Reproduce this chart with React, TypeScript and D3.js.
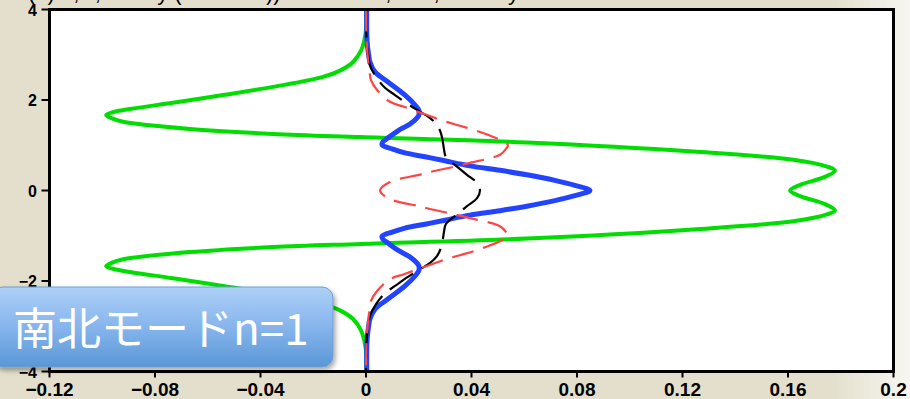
import React from 'react';
import * as d3 from 'd3';

// curve samples: [y, value]
const greenPts: [number, number][] = [
  [4, 0], [3.55, 0], [3.33, -0.0006], [3.1, -0.0018], [2.84, -0.0049], [2.66, -0.0095],
  [2.51, -0.0163], [2.29, -0.0353], [2.11, -0.0542], [1.94, -0.0732], [1.8, -0.0895],
  [1.73, -0.096], [1.67, -0.0985], [1.6, -0.0965], [1.52, -0.0921], [1.36, -0.0667],
  [1.25, -0.0353], [1.18, -0.002], [1.06, 0.061], [0.86, 0.124], [0.68, 0.162],
  [0.53, 0.1748], [0.44, 0.1778], [0.3, 0.174], [0.125, 0.1646], [0, 0.1608],
  [-0.125, 0.1646], [-0.3, 0.174], [-0.44, 0.1778], [-0.53, 0.1748], [-0.68, 0.162],
  [-0.86, 0.124], [-1.06, 0.061], [-1.18, -0.002], [-1.25, -0.0353], [-1.36, -0.0667],
  [-1.52, -0.0921], [-1.6, -0.0965], [-1.67, -0.0985], [-1.73, -0.096], [-1.8, -0.0895],
  [-1.94, -0.0732], [-2.11, -0.0542], [-2.29, -0.0353], [-2.51, -0.0163], [-2.66, -0.0095],
  [-2.84, -0.0049], [-3.1, -0.0018], [-3.33, -0.0006], [-3.55, 0], [-4, 0],
];

const bluePts: [number, number][] = [
  [4, 0.0003], [3.3, 0.0004], [3.0, 0.001], [2.84, 0.0015], [2.62, 0.0034], [2.4, 0.0083],
  [2.11, 0.0148], [1.89, 0.0186], [1.76, 0.0201], [1.65, 0.0199], [1.47, 0.0167],
  [1.32, 0.0121], [1.16, 0.0083], [1.075, 0.0064], [1.01, 0.0061], [0.92, 0.0099],
  [0.83, 0.0148], [0.745, 0.0224], [0.656, 0.0299], [0.545, 0.0394], [0.446, 0.0508],
  [0.347, 0.061], [0.225, 0.0716], [0.115, 0.0792], [0, 0.0849],
  [-0.115, 0.0792], [-0.225, 0.0716], [-0.347, 0.061], [-0.446, 0.0508], [-0.545, 0.0394],
  [-0.656, 0.0299], [-0.745, 0.0224], [-0.83, 0.0148], [-0.92, 0.0099], [-1.01, 0.0061],
  [-1.075, 0.0064], [-1.16, 0.0083], [-1.32, 0.0121], [-1.47, 0.0167], [-1.65, 0.0199],
  [-1.76, 0.0201], [-1.89, 0.0186], [-2.11, 0.0148], [-2.4, 0.0083], [-2.62, 0.0034],
  [-2.84, 0.0015], [-3.0, 0.001], [-3.3, 0.0004], [-4, 0.0003],
];

const blackPts: [number, number][] = [
  [4, 0], [3.33, 0.0002], [2.99, 0.0008], [2.77, 0.0015], [2.51, 0.0038], [2.27, 0.0072],
  [2.11, 0.011], [1.91, 0.0159], [1.74, 0.0205], [1.6, 0.0243], [1.45, 0.0269],
  [1.27, 0.0284], [1.05, 0.0292], [0.9, 0.0296], [0.74, 0.0303], [0.567, 0.0337],
  [0.347, 0.0383], [0.17, 0.0421], [0, 0.0432],
  [-0.17, 0.0421], [-0.347, 0.0383], [-0.567, 0.0337], [-0.74, 0.0303], [-0.9, 0.0296],
  [-1.05, 0.0292], [-1.27, 0.0284], [-1.45, 0.0269], [-1.6, 0.0243], [-1.74, 0.0205],
  [-1.91, 0.0159], [-2.11, 0.011], [-2.27, 0.0072], [-2.51, 0.0038], [-2.77, 0.0015],
  [-2.99, 0.0008], [-3.33, 0.0002], [-4, 0],
];

const redPts: [number, number][] = [
  [4, 0], [3.33, 0.0002], [2.88, 0.0008], [2.66, 0.0013], [2.44, 0.0019], [2.22, 0.0042],
  [1.96, 0.0091], [1.85, 0.0144], [1.74, 0.0197], [1.63, 0.025], [1.52, 0.0303],
  [1.43, 0.0356], [1.34, 0.0409], [1.23, 0.0462], [1.12, 0.0508], [1.01, 0.0538],
  [0.92, 0.0531], [0.79, 0.0508], [0.61, 0.0394], [0.52, 0.033], [0.41, 0.0243],
  [0.35, 0.0205], [0.19, 0.0091], [0, 0.0053],
  [-0.19, 0.0091], [-0.35, 0.0205], [-0.41, 0.0243], [-0.52, 0.033], [-0.61, 0.0394],
  [-0.79, 0.0508], [-0.92, 0.0531], [-1.01, 0.0538], [-1.12, 0.0508], [-1.23, 0.0462],
  [-1.34, 0.0409], [-1.43, 0.0356], [-1.52, 0.0303], [-1.63, 0.025], [-1.74, 0.0197],
  [-1.85, 0.0144], [-1.96, 0.0091], [-2.22, 0.0042], [-2.44, 0.0019], [-2.66, 0.0013],
  [-2.88, 0.0008], [-3.33, 0.0002], [-4, 0],
];

const xTicks = [-0.12, -0.08, -0.04, 0, 0.04, 0.08, 0.12, 0.16, 0.2];
const xTickLabels = ['\u22120.12', '\u22120.08', '\u22120.04', '0', '0.04', '0.08', '0.12', '0.16', '0.2'];
const yTicks = [-4, -2, 0, 2, 4];
const yTickLabels = ['\u22124', '\u22122', '0', '2', '4'];
// title sits above the page edge, only its descenders show
const title = '(a) u,  v,  h  for  y  (Matsuno)) mode  n=1,  k=1,  Rossby wave';
const label = '\u5357\u5317\u30e2\u30fc\u30c9n=1';

const W = 910;
const H = 399;

export default function App() {
  const x = d3.scaleLinear().domain([-0.12, 0.2]).range([49.5, 893.5]);
  const y = d3.scaleLinear().domain([-4, 4]).range([371.5, 9.5]);

  const line = d3
    .line<[number, number]>()
    .x((d) => x(d[1]))
    .y((d) => y(d[0]))
    .curve(d3.curveCatmullRom.alpha(0.5));

  const tickFont = '"Liberation Sans", Arial, sans-serif';

  return (
    <svg
      width={W}
      height={H}
      style={{ position: 'absolute', left: 0, top: 0, display: 'block' }}
    >
      <defs>
        <linearGradient id="bgfade" x1="0" x2="1" y1="0" y2="0">
          <stop offset="0" stopColor="#e3dfcc" />
          <stop offset="1" stopColor="#f7f6f2" />
        </linearGradient>
        <linearGradient id="boxgrad" x1="0" x2="0" y1="0" y2="1">
          <stop offset="0" stopColor="#aed0f8" />
          <stop offset="0.5" stopColor="#86b5ec" />
          <stop offset="1" stopColor="#5a97d7" />
        </linearGradient>
        <filter id="shadow" x="-10%" y="-20%" width="130%" height="160%">
          <feDropShadow dx="2" dy="3" stdDeviation="2.5" floodColor="#000" floodOpacity="0.35" />
        </filter>
        <clipPath id="plotclip">
          <rect x={x(-0.12)} y={y(4)} width={x(0.2) - x(-0.12)} height={y(-4) - y(4)} />
        </clipPath>
      </defs>

      <rect x={0} y={0} width={W} height={H} fill="#e3dfcc" />
      <rect x={830} y={0} width={80} height={H} fill="url(#bgfade)" />

      <text x={28} y={0} fontFamily={tickFont} fontSize={22} fill="#000">
        {title}
      </text>

      <rect
        x={x(-0.12)}
        y={y(4)}
        width={x(0.2) - x(-0.12)}
        height={y(-4) - y(4)}
        fill="#fff"
      />

      <g clipPath="url(#plotclip)" fill="none" strokeLinejoin="round">
        <path d={line(greenPts) ?? ''} stroke="#00dd00" strokeWidth={4} />
        <path d={line(bluePts) ?? ''} stroke="#2244ff" strokeWidth={5} />
        <path d={line(blackPts) ?? ''} stroke="#000" strokeWidth={2.2} strokeDasharray="28,10" />
        <path d={line(redPts) ?? ''} stroke="#ff4444" strokeWidth={2.2} strokeDasharray="22,10" />
      </g>

      <rect
        x={x(-0.12)}
        y={y(4)}
        width={x(0.2) - x(-0.12)}
        height={y(-4) - y(4)}
        fill="none"
        stroke="#000"
        strokeWidth={3}
      />

      {xTicks.map((t, i) => (
        <g key={`x${i}`}>
          <line x1={x(t)} x2={x(t)} y1={y(-4)} y2={y(-4) + 6} stroke="#000" strokeWidth={2} />
          <text
            x={x(t)}
            y={396}
            textAnchor="middle"
            fontFamily={tickFont}
            fontWeight="bold"
            fontSize={19}
            fill="#000"
          >
            {xTickLabels[i]}
          </text>
        </g>
      ))}

      {yTicks.map((t, i) => (
        <g key={`y${i}`}>
          <line x1={x(-0.12) - 8} x2={x(-0.12)} y1={y(t)} y2={y(t)} stroke="#000" strokeWidth={2} />
          <text
            x={37}
            y={y(t) + 6}
            textAnchor="end"
            fontFamily={tickFont}
            fontWeight="bold"
            fontSize={16}
            fill="#000"
          >
            {yTickLabels[i]}
          </text>
        </g>
      ))}

      <g filter="url(#shadow)">
        <rect
          x={-8}
          y={287}
          width={341}
          height={80}
          rx={11}
          fill="url(#boxgrad)"
          stroke="#6f9dd2"
          strokeWidth={1}
        />
      </g>
      <text
        x={13}
        y={345}
        fontFamily='"Noto Sans CJK JP", "Noto Sans", sans-serif'
        fontSize={44}
        fill="#fff"
      >
        {label}
      </text>
    </svg>
  );
}
